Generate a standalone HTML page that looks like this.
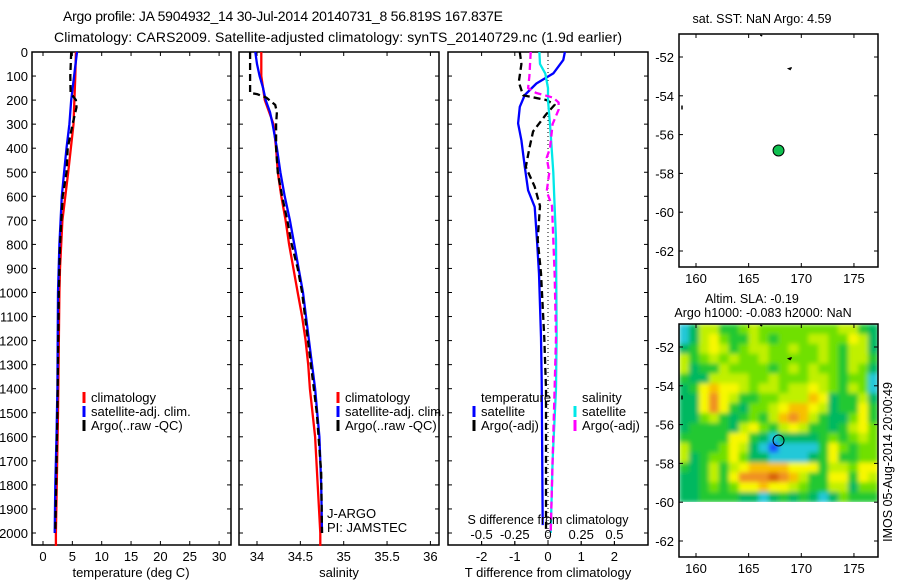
<!DOCTYPE html>
<html><head><meta charset="utf-8">
<style>
html,body{margin:0;padding:0;background:#fff;}
svg{display:block;font-family:"Liberation Sans",sans-serif;}
text{fill:#000;}
</style></head>
<body>
<svg id="fig" width="900" height="580" viewBox="0 0 900 580" xmlns="http://www.w3.org/2000/svg">
<defs>
<filter id="blur" x="0" y="0" width="1" height="1"><feGaussianBlur stdDeviation="2.5" edgeMode="duplicate"/></filter>
<clipPath id="slaclip"><rect x="679" y="324" width="199" height="178"/></clipPath>
</defs>
<text x="283" y="21" font-size="14" text-anchor="middle" textLength="440">Argo profile: JA 5904932_14 30-Jul-2014 20140731_8 56.819S 167.837E</text>
<text x="338" y="42" font-size="14" text-anchor="middle" textLength="568">Climatology: CARS2009. Satellite-adjusted climatology: synTS_20140729.nc (1.9d earlier)</text>
<g id="g"></g>
</svg>
<script>
// ---------- data ----------
const depthTicks = [0,100,200,300,400,500,600,700,800,900,1000,1100,1200,1300,1400,1500,1600,1700,1800,1900,2000];
const tempTicks = [0,5,10,15,20,25,30];
const salTicks = [34,34.5,35,35.5,36];
const tdTicks = [-2,-1,0,1,2];
const sdTicks = [-0.5,-0.25,0,0.25,0.5];
const sdTickLabels = ["-0.5","-0.25","0","0.25","0.5"];

const tClimDepth = [0,100,300,500,700,900,1000,1500,2000,2054];
const tClimVal   = [5.6,5.5,5.2,4.3,3.3,2.9,2.8,2.55,2.2,2.2];
const tSatDepth  = [0,100,200,300,400,500,600,700,800,1000,1400,1600,1800,2000];
const tSatVal    = [5.8,5.3,4.8,4.5,4.0,3.6,3.2,3.0,2.8,2.55,2.45,2.3,2.1,2.0];
const tArgoDepth = [0,100,170,200,230,300,400,500,600,800,1000,1500,2000];
const tArgoVal   = [4.8,4.65,4.7,5.6,5.7,5.05,4.2,4.0,3.35,2.9,2.7,2.45,2.1];

const sClimDepth = [0,100,200,300,400,500,600,700,800,900,1000,1100,1200,1300,1400,1500,1600,1800,2000,2054];
const sClimVal   = [34.05,34.05,34.09,34.19,34.22,34.24,34.28,34.33,34.37,34.42,34.47,34.52,34.56,34.59,34.61,34.64,34.67,34.70,34.73,34.73];
const sSatDepth  = [0,50,100,150,200,250,300,400,500,600,700,800,900,1000,1200,1400,1600,1800,2000];
const sSatVal    = [33.98,34.0,34.03,34.07,34.10,34.15,34.18,34.23,34.27,34.32,34.38,34.43,34.48,34.53,34.60,34.67,34.72,34.74,34.75];
const sArgoDepth = [0,170,175,190,220,250,300,400,500,600,700,800,900,1000,1500,1750,2000];
const sArgoVal   = [33.92,33.92,34.0,34.11,34.21,34.23,34.22,34.22,34.24,34.29,34.35,34.40,34.47,34.52,34.69,34.74,34.75];

const dtSatDepth  = [0,33,89,131,179,228,297,367,478,575,644,783,922,1186,1367,1967];
const dtSatVal    = [0.51,0.46,0.16,-0.35,-0.70,-0.85,-0.9,-0.8,-0.7,-0.6,-0.4,-0.33,-0.27,-0.21,-0.19,-0.16];
const dtArgoDepth = [0,50,125,180,200,220,260,330,400,478,560,640,780,920,1190,1400,2000];
const dtArgoVal   = [-0.85,-0.8,-0.88,-0.75,-0.04,0.2,-0.06,-0.45,-0.56,-0.67,-0.4,-0.24,-0.31,-0.21,-0.11,-0.06,-0.06];
const dsSatDepth  = [0,50,90,150,200,300,500,640,780,1180,1400,1700,2000];
const dsSatVal    = [-0.065,-0.06,-0.02,0,0,0.015,0.04,0.05,0.06,0.065,0.06,0.035,0.02];
const dsArgoDepth = [0,100,150,170,190,210,240,300,400,440,500,580,640,780,920,1186,1400,1700,2000];
const dsArgoVal   = [-0.13,-0.14,-0.15,-0.09,0.04,0.08,0.08,0.035,0.015,-0.01,0.01,-0.01,0.03,0.04,0.05,0.06,0.05,0.035,0.02];

const lonTicks = [160,165,170,175];
const latTicks = [-52,-54,-56,-58,-60,-62];
const argoLon = 167.837, argoLat = -56.819;

// SLA grid (colour index 0..9), rows north->south, cols west->east
const slaRows = [
[1,2,5,5,3,3,4,5,4,4,4,4,4,4,4,4,5,5,3,2],
[1,2,5,6,4,3,3,5,4,3,4,4,4,5,5,4,4,6,5,2],
[2,3,5,6,5,3,4,5,5,4,4,5,4,4,5,4,3,5,5,2],
[5,3,4,5,4,5,4,4,5,4,4,4,4,4,5,4,3,5,5,3],
[5,2,3,3,5,4,4,4,4,3,4,5,4,5,4,4,3,5,4,2],
[3,2,2,5,5,5,5,4,4,5,4,4,4,5,5,4,3,4,4,1],
[2,3,6,7,6,6,5,4,5,5,4,5,5,6,5,4,3,5,4,1],
[2,2,6,8,6,5,3,3,4,4,5,5,5,7,6,2,3,3,5,2],
[2,2,6,8,6,3,2,4,4,5,6,7,7,6,5,2,3,3,6,3],
[2,2,4,5,3,2,3,4,3,5,7,8,7,5,3,2,2,4,6,3],
[2,3,3,3,3,2,5,6,4,3,5,6,5,3,3,2,3,5,6,4],
[3,3,3,3,3,6,6,3,2,1,2,2,2,2,3,4,3,4,5,4],
[5,3,3,3,4,6,5,2,1,0,1,1,1,1,3,6,4,3,4,4],
[5,2,3,4,4,6,4,2,2,1,1,1,1,2,3,6,3,3,4,4],
[3,2,3,5,3,5,6,7,7,7,7,6,6,6,3,5,5,4,6,6],
[2,2,3,5,3,6,8,8,8,9,8,7,5,3,3,6,6,3,6,5],
[2,2,3,4,3,4,6,6,7,6,6,5,4,3,3,5,5,2,4,4],
[2,2,3,3,3,3,2,2,1,2,3,2,3,2,1,2,4,3,3,3]
];
const slaColors = ["#1e50ff","#20c8d8","#00b860","#20c830","#70e000","#c0f000","#f8f800","#f8c000","#f09020","#d86010"];

// ---------- helpers ----------
const NS="http://www.w3.org/2000/svg";
const G=document.getElementById('g');
function mk(tag,attrs,parent){const e=document.createElementNS(NS,tag);for(const k in attrs)e.setAttribute(k,attrs[k]);(parent||G).appendChild(e);return e;}
function txt(x,y,s,size,anchor,parent){const e=mk('text',{x:x,y:y,'font-size':size,'text-anchor':anchor||'start'},parent);e.textContent=s;return e;}

const PT=52, PB=545;
const yD = d => PT + d*0.2405;
const xT = v => 43 + v*5.87;
const xS = v => 257 + (v-34)*86.7;
const xTD = v => 548 + v*33.2;
const xSD = v => 548 + v*132.8;

function frame(x0,x1,name){
  const r=mk('rect',{x:x0,y:PT,width:x1-x0,height:PB-PT,fill:'none',stroke:'#000','stroke-width':1.5});
  
  
  depthTicks.forEach(d=>{
    mk('line',{x1:x0,x2:x0+4,y1:yD(d),y2:yD(d),stroke:'#000'});
    mk('line',{x1:x1-4,x2:x1,y1:yD(d),y2:yD(d),stroke:'#000'});
  });
}
function xticks(vals,fx,labels){
  vals.forEach((v,i)=>{
    const x=fx(v);
    mk('line',{x1:x,x2:x,y1:PB,y2:PB-4,stroke:'#000'});
    mk('line',{x1:x,x2:x,y1:PT,y2:PT+4,stroke:'#000'});
    const t=txt(x,561,labels?labels[i]:String(v),13,'middle');
    
    
  });
}
function line(depths,vals,fx,color,name,dash){
  const pts=depths.map((d,i)=>fx(vals[i]).toFixed(1)+','+yD(d).toFixed(1)).join(' ');
  const a={points:pts,fill:'none',stroke:color,'stroke-width':2.3,'stroke-linejoin':'round'};
  if(dash)a['stroke-dasharray']=dash;
  const p=mk('polyline',a);
  
  
}
function legend(x,y,color,label,name){
  const g=mk('g',{});
  
  
  mk('line',{x1:x,x2:x,y1:y-10,y2:y+1,stroke:color,'stroke-width':3},g);
  txt(x+7,y,label,13,'start',g);
}

// ---------- panel 1: temperature ----------
frame(32,231,'temperature-axes');
depthTicks.forEach(d=>{const t=txt(28,yD(d)+5,String(d),13,'end');
  
  });
xticks(tempTicks,xT);
line(tClimDepth,tClimVal,xT,'#ff0000','temp-climatology-line');
line(tSatDepth,tSatVal,xT,'#0000ff','temp-satellite-line');
line(tArgoDepth,tArgoVal,xT,'#000','temp-argo-line','7,4');
{const t=txt(131,577,'temperature (deg C)',13,'middle');}
legend(84,402,'#ff0000','climatology','legend-climatology');
legend(84,416,'#0000ff','satellite-adj. clim.','legend-satellite-adj');
legend(84,430,'#000','Argo(..raw -QC)','legend-argo');

// ---------- panel 2: salinity ----------
frame(239,439,'salinity-axes');
xticks(salTicks,xS);
line(sClimDepth,sClimVal,xS,'#ff0000','sal-climatology-line');
line(sSatDepth,sSatVal,xS,'#0000ff','sal-satellite-line');
line(sArgoDepth,sArgoVal,xS,'#000','sal-argo-line','7,4');
{const t=txt(339,577,'salinity',13,'middle');}
legend(338,402,'#ff0000','climatology','legend-climatology-2');
legend(338,416,'#0000ff','satellite-adj. clim.','legend-satellite-adj-2');
legend(338,430,'#000','Argo(..raw -QC)','legend-argo-2');
{const t=txt(327,518,'J-ARGO',13);
 const u=txt(327,532,'PI: JAMSTEC',13);}

// ---------- panel 3: differences ----------
frame(448,648,'difference-axes');
xticks(tdTicks,xTD);
mk('line',{x1:548,x2:548,y1:PT,y2:PB,stroke:'#000','stroke-dasharray':'1,3'});
line(dtSatDepth,dtSatVal,xTD,'#0000ff','t-diff-satellite-line');
line(dtArgoDepth,dtArgoVal,xTD,'#000','t-diff-argo-line','7,4');
line(dsSatDepth,dsSatVal,xSD,'#00e8e8','s-diff-satellite-line');
line(dsArgoDepth,dsArgoVal,xSD,'#ff00ff','s-diff-argo-line','7,4');
{const t=txt(548,577,'T difference from climatology',13,'middle');}
{const t=txt(548,524,'S difference from climatology',12.5,'middle');}
sdTicks.forEach((v,i)=>{const t=txt(xSD(v),539,sdTickLabels[i],13,'middle');
  
  mk('line',{x1:xSD(v),x2:xSD(v),y1:PB,y2:PB-4,stroke:'#000'});});
txt(481,402,'temperature',13);
legend(474,416,'#0000ff','satellite','legend-t-satellite');
legend(474,430,'#000','Argo(-adj)','legend-t-argo');
txt(582,402,'salinity',13);
legend(575,416,'#00e8e8','satellite','legend-s-satellite');
legend(575,430,'#ff00ff','Argo(-adj)','legend-s-argo');

// ---------- maps ----------
const MX0=679, MX1=878;
const xL = lon => 696 + (lon-160)*10.53;
function mapFrame(top,bottom,lat52,name,slaMap){
  const yL = lat => lat52 + (-52-lat)*19.4;
  if(slaMap){
    const g=mk('g',{'clip-path':'url(#slaclip)'});
    const gb=mk('g',{filter:'url(#blur)'},g);
    const cw=199/slaRows[0].length, ch=178/slaRows.length;
    slaRows.forEach((row,r)=>row.forEach((v,c)=>{
      const cell=mk('rect',{x:(MX0+c*cw).toFixed(2),y:(324+r*ch).toFixed(2),width:(cw+0.6).toFixed(2),height:(ch+0.6).toFixed(2),fill:slaColors[v]},gb);
      
      
    }));
  }
  const r=mk('rect',{x:MX0,y:top,width:MX1-MX0,height:bottom-top,fill:'none',stroke:'#000','stroke-width':1.5});
  
  
  latTicks.forEach(l=>{const y=yL(l);
    mk('line',{x1:MX0,x2:MX0+4,y1:y,y2:y,stroke:'#000'});
    mk('line',{x1:MX1-4,x2:MX1,y1:y,y2:y,stroke:'#000'});
    const t=txt(674,y+5,String(l),13,'end');
    });
  lonTicks.forEach(l=>{const x=xL(l);
    mk('line',{x1:x,x2:x,y1:top,y2:top+4,stroke:'#000'});
    mk('line',{x1:x,x2:x,y1:bottom-4,y2:bottom,stroke:'#000'});
    const t=txt(x,bottom+16,String(l),13,'middle');
    });
  mk('path',{d:`M${xL(166.1)} ${top+1} l2 1 M${xL(169.1)} ${yL(-52.55)} l-3 1 l2 1 M${MX0+3} ${yL(-54.5)} l0 4`,stroke:'#000','stroke-width':1.5,fill:'none'});
  const c=mk('circle',{cx:xL(argoLon),cy:yL(argoLat),r:5.5,fill:slaMap?'none':'#10c050',stroke:'#000','stroke-width':1});
  
  
}
mapFrame(34,267,57,'sst-map',false);
mapFrame(324,557,347,'sla-map',true);
{const t=txt(762,23,'sat. SST: NaN Argo: 4.59',12.5,'middle');}
{const t=txt(752,303,'Altim. SLA: -0.19',12.5,'middle');}
{const t=txt(763,317,'Argo h1000: -0.083 h2000: NaN',12.5,'middle');}
{const t=txt(0,0,'IMOS 05-Aug-2014 20:00:49',12.5,'middle');
 t.setAttribute('transform','translate(892,462) rotate(-90)');
 }
</script>
</body></html>
